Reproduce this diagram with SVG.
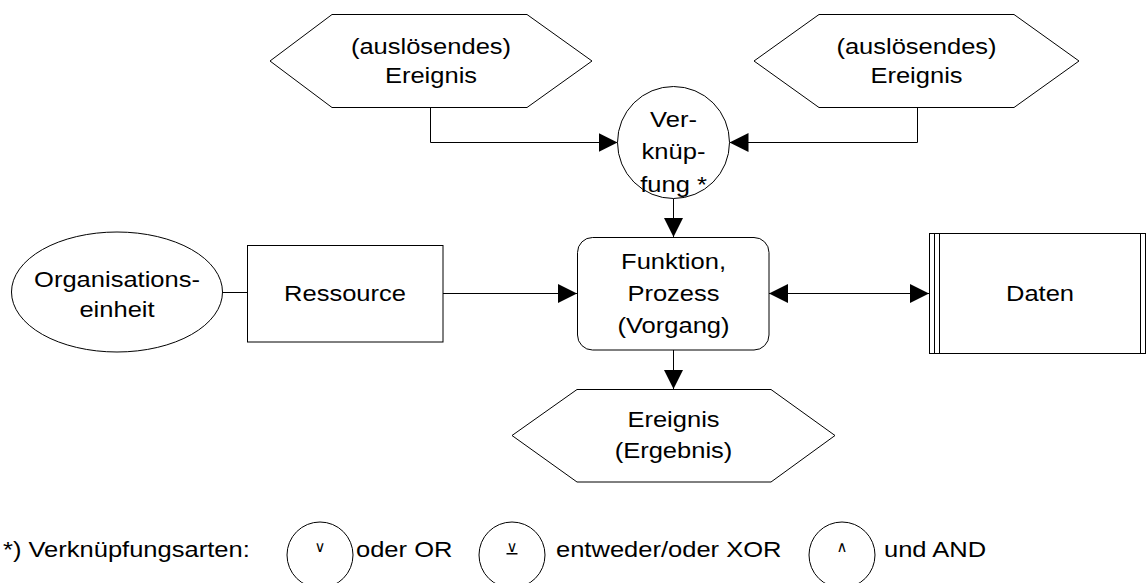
<svg xmlns="http://www.w3.org/2000/svg" width="1146" height="583" viewBox="0 0 1146 583">
<defs>
<style>
.s{fill:#fff;stroke:#000;stroke-width:1}
.c{fill:none;stroke:#000;stroke-width:1}
.t{font-family:"Liberation Sans",Arial,sans-serif;font-size:22px;fill:#000;text-anchor:middle}
.l{font-family:"Liberation Sans",Arial,sans-serif;font-size:22px;fill:#000}
.y{font-family:"DejaVu Sans",sans-serif;font-size:15px;fill:#000;text-anchor:middle}
</style>
<marker id="ah" markerUnits="userSpaceOnUse" markerWidth="19" markerHeight="19" refX="19" refY="9.5" orient="auto-start-reverse" viewBox="0 0 19 19">
<path d="M0,0 L19,9.5 L0,19 Z" fill="#000"/>
</marker>
</defs>
<rect width="1146" height="583" fill="#fff"/>

<g id="connectors">
<path class="c" d="M430.5,107 V142.5 H617.5" marker-end="url(#ah)"/>
<path class="c" d="M917.5,107 V142.5 H729.5" marker-end="url(#ah)"/>
<path class="c" d="M673.5,198.5 V237" marker-end="url(#ah)"/>
<path class="c" d="M443,293.5 H577" marker-end="url(#ah)"/>
<path class="c" d="M769,293.5 H929" marker-start="url(#ah)" marker-end="url(#ah)"/>
<path class="c" d="M673.5,350 V389" marker-end="url(#ah)"/>
<path class="c" d="M222.5,292.5 H247"/>
</g>

<g id="event-left">
<polygon class="s" points="332,14.5 527,14.5 592,61 527,107.5 332,107.5 270,61"/>
<text class="t" transform="translate(431 54) scale(1.16 1)"><tspan x="0">(auslösendes)</tspan><tspan x="0" dy="29">Ereignis</tspan></text>
</g>

<g id="event-right">
<polygon class="s" points="819,14.5 1014,14.5 1079,61 1014,107.5 819,107.5 754,61"/>
<text class="t" transform="translate(916.5 54) scale(1.16 1)"><tspan x="0">(auslösendes)</tspan><tspan x="0" dy="29">Ereignis</tspan></text>
</g>

<g id="connector-node">
<circle class="s" cx="673.5" cy="142.5" r="56"/>
<text class="t" transform="translate(673.5 127) scale(1.16 1)"><tspan x="0">Ver-</tspan><tspan x="0" dy="32.5">knüp-</tspan><tspan x="0" dy="32.5">fung *</tspan></text>
</g>

<g id="org-unit">
<ellipse class="s" cx="117" cy="292" rx="105.5" ry="60"/>
<text class="t" transform="translate(117 287) scale(1.16 1)"><tspan x="0">Organisations-</tspan><tspan x="0" dy="30">einheit</tspan></text>
</g>

<g id="resource">
<rect class="s" x="247.5" y="245.5" width="195.5" height="96.5"/>
<text class="t" transform="translate(345 301) scale(1.16 1)">Ressource</text>
</g>

<g id="function">
<rect class="s" x="577.5" y="237.5" width="191.5" height="112.5" rx="15" ry="15"/>
<text class="t" transform="translate(673.5 269) scale(1.16 1)"><tspan x="0">Funktion,</tspan><tspan x="0" dy="32">Prozess</tspan><tspan x="0" dy="32">(Vorgang)</tspan></text>
</g>

<g id="data">
<rect class="s" x="929.5" y="233.5" width="216" height="120"/>
<line class="c" x1="934.5" y1="233.5" x2="934.5" y2="353.5"/>
<line class="c" x1="939.5" y1="233.5" x2="939.5" y2="353.5"/>
<line class="c" x1="1140.5" y1="233.5" x2="1140.5" y2="353.5"/>
<text class="t" transform="translate(1040 301) scale(1.16 1)">Daten</text>
</g>

<g id="event-result">
<polygon class="s" points="577,389.5 771,389.5 835,435.5 771,482 577,482 512,435.5"/>
<text class="t" transform="translate(673.5 427) scale(1.16 1)"><tspan x="0">Ereignis</tspan><tspan x="0" dy="31">(Ergebnis)</tspan></text>
</g>

<g id="legend">
<text class="l" transform="translate(3 557) scale(1.16 1)">*) Verknüpfungsarten:</text>
<circle class="s" cx="320" cy="555" r="33"/>
<text class="y" x="320" y="552">∨</text>
<text class="l" transform="translate(356 557) scale(1.16 1)">oder OR</text>
<circle class="s" cx="512" cy="555" r="33"/>
<text class="y" x="512" y="552" text-decoration="underline">∨</text>
<text class="l" transform="translate(556 557) scale(1.16 1)">entweder/oder XOR</text>
<circle class="s" cx="842" cy="555" r="33"/>
<text class="y" x="842" y="552">∧</text>
<text class="l" transform="translate(884 557) scale(1.16 1)">und AND</text>
</g>
</svg>
